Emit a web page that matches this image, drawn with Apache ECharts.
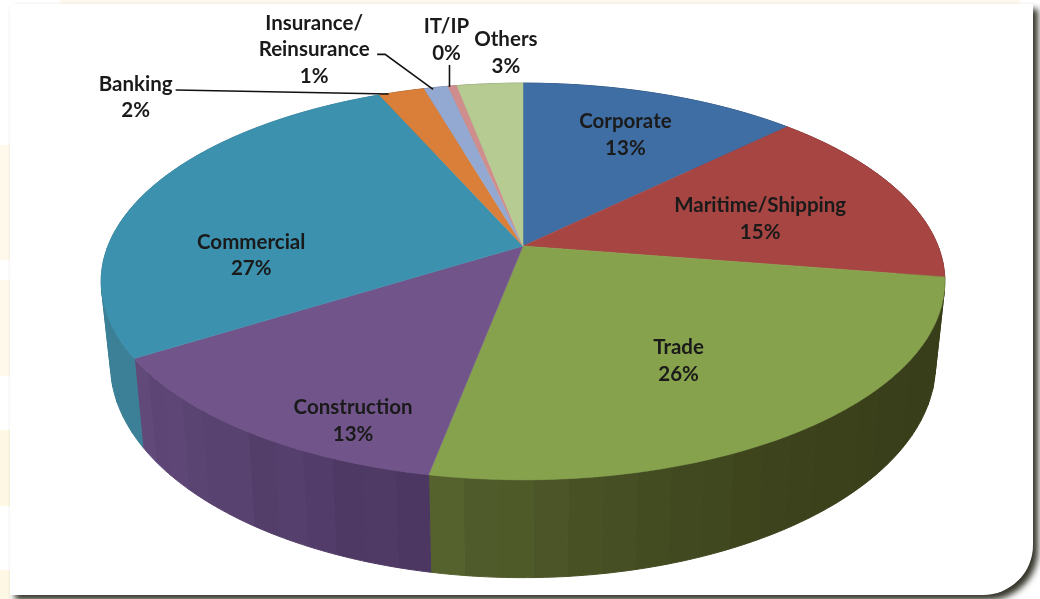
<!DOCTYPE html>
<html>
<head>
<meta charset="utf-8">
<style>
  html, body { margin: 0; padding: 0; background: #fff; }
  #main { width: 1040px; height: 599px; }
</style>
<script src="https://cdn.jsdelivr.net/npm/echarts@6/dist/echarts.min.js"></script>
</head>
<body>
<div id="main"></div>
<script>
// chart data
var categories = ['Corporate', 'Maritime/Shipping', 'Trade', 'Construction', 'Commercial', 'Banking', 'Insurance/\nReinsurance', 'IT/IP', 'Others'];
var shares = [12.7, 14.8, 25.5, 13.1, 27.3, 2.1, 1.1, 0.4, 3.0];

// colours
var topColors = ['#3f6ea4', '#a64542', '#86a24c', '#71558a', '#3c91ae', '#d97f39', '#94a9d1', '#cf8e8d', '#b6cb92'];
// wall colour at the start and end of each slice, going clockwise
var wallFrom = ['#2c4d73', '#74302e', '#383e19', '#4a3660', '#3b8096', '#985927', '#687692', '#916362', '#7f8e66'];
var wallTo = ['#2c4d73', '#74302e', '#56632f', '#614a7a', '#3b8096', '#985927', '#687692', '#916362', '#7f8e66'];
// the original wall has faint vertical banding
var banding = [0, 0.02, -0.015, 0.01, 0.025, -0.02, 0.015, -0.005];

// label placement, offset from the rim point at the middle of each slice
var labelOffsets = [[-36, 41], [-138, 28], [-124, -69], [105, -11], [105, 63], [-266, 6], [-122, -38], [-6, -46], [16, -31]];
var leaders = {
  5: [[-226, -1.5], [-13, 2.5]],
  6: [[-59, -33], [-51, -33], [-3, 2]],
  7: [[-3, -21], [-3, 1]]
};

// projection of the pie disc, fitted on the picture
var apexX = 523, apexY = 246;
var radiusX = 415, radiusY = 192, persp = 0.179;
var baseScale = 0.978, baseStretch = 1.076, baseY = 326;

var total = shares.reduce(function (a, b) { return a + b; }, 0);
var rows = [];
var running = 0;
shares.forEach(function (v, i) {
  rows.push([running / total, (running + v) / total, i]);
  running += v;
});

function topPoint(frac) {
  var a = frac * Math.PI * 2;
  var u = Math.sin(a), v = Math.cos(a);
  var d = 1 + persp * v;
  return [apexX + radiusX * u / d, apexY - radiusY * v / d];
}

function basePoint(frac) {
  var p = topPoint(frac);
  return [apexX + (p[0] - apexX) * baseScale, baseY + (p[1] - apexY) * baseStretch];
}

function mixColor(c1, c2, t, shade) {
  var out = [];
  for (var i = 0; i < 3; i++) {
    var a = parseInt(c1.substr(1 + i * 2, 2), 16);
    var b = parseInt(c2.substr(1 + i * 2, 2), 16);
    out.push(Math.max(0, Math.min(255, Math.round((a + (b - a) * t) * (1 + shade)))));
  }
  return 'rgb(' + out.join(',') + ')';
}

function renderWall(params, api) {
  var start = api.value(0), end = api.value(1), idx = api.value(2);
  var children = [];
  var steps = Math.max(1, Math.round((end - start) * 90));
  for (var s = 0; s < steps; s++) {
    var f0 = start + (end - start) * s / steps;
    var f1 = start + (end - start) * (s + 1) / steps;
    var pts = [];
    var n;
    for (n = 0; n <= 6; n++) pts.push(topPoint(f0 + (f1 - f0) * n / 6));
    for (n = 6; n >= 0; n--) pts.push(basePoint(f0 + (f1 - f0) * n / 6));
    var t = (s + 0.5) / steps;
    var ramp = Math.pow(t, idx === 2 ? 3 : 1);
    // flat walls stay flat, the trade wall only bands where it gets lighter
    var shade = wallFrom[idx] === wallTo[idx] ? 0 : banding[s % banding.length] * (idx === 2 ? ramp : 1);
    var col = mixColor(wallFrom[idx], wallTo[idx], ramp, shade);
    children.push({ type: 'polygon', shape: { points: pts }, style: { fill: col, stroke: col, lineWidth: 1 } });
  }
  return { type: 'group', children: children };
}

function renderTop(params, api) {
  var start = api.value(0), end = api.value(1), idx = api.value(2);
  var pts = [[apexX, apexY]];
  var steps = Math.max(4, Math.round((end - start) * 360));
  for (var s = 0; s <= steps; s++) pts.push(topPoint(start + (end - start) * s / steps));
  return {
    type: 'polygon',
    shape: { points: pts },
    style: { fill: topColors[idx], stroke: topColors[idx], lineWidth: 0.5 }
  };
}

function renderLabel(params, api) {
  var start = api.value(0), end = api.value(1), idx = api.value(2);
  var rim = topPoint((start + end) / 2);
  var off = labelOffsets[idx];
  var pct = Math.round((end - start) * 100);
  var children = [{
    type: 'text',
    style: {
      x: rim[0] + off[0],
      y: rim[1] + off[1],
      text: categories[idx] + '\n' + pct + '%',
      align: 'center',
      verticalAlign: 'middle',
      fill: '#1a1a1a',
      font: 'bold 20.5px Lato',
      lineHeight: 26.5
    }
  }];
  if (leaders[idx]) {
    children.push({
      type: 'polyline',
      shape: { points: leaders[idx].map(function (p) { return [rim[0] + p[0], rim[1] + p[1]]; }) },
      style: { stroke: '#111', lineWidth: 1.6, fill: null }
    });
  }
  return { type: 'group', children: children };
}

var chart = echarts.init(document.getElementById('main'), null, { renderer: 'canvas' });

chart.setOption({
  animation: false,
  backgroundColor: '#ffffff',
  graphic: [
    // cream paper showing round the panel
    { type: 'rect', z: -3, shape: { x: 60, y: 0, width: 960, height: 4 }, style: { fill: '#fdf9ef' } },
    { type: 'rect', z: -3, shape: { x: 0, y: 145, width: 10, height: 115 }, style: { fill: '#fef9ea' } },
    { type: 'rect', z: -3, shape: { x: 0, y: 280, width: 10, height: 96 }, style: { fill: '#fef9ea' } },
    { type: 'rect', z: -3, shape: { x: 0, y: 430, width: 10, height: 76 }, style: { fill: '#fef7e4' } },
    { type: 'rect', z: -3, shape: { x: 0, y: 570, width: 10, height: 29 }, style: { fill: '#fef7e4' } },
    // white panel with drop shadow
    {
      type: 'rect',
      z: -2,
      shape: { x: 10, y: 4, width: 1023, height: 591, r: [0, 0, 50, 0] },
      style: {
        fill: '#ffffff',
        shadowColor: 'rgba(40,40,30,0.95)',
        shadowBlur: 6,
        shadowOffsetX: 5,
        shadowOffsetY: 5
      }
    }
  ],
  series: [
    { type: 'custom', coordinateSystem: 'none', z: 2, silent: true, data: rows, renderItem: renderWall },
    { type: 'custom', coordinateSystem: 'none', z: 3, silent: true, data: rows, renderItem: renderTop },
    { type: 'custom', coordinateSystem: 'none', z: 4, silent: true, data: rows, renderItem: renderLabel }
  ]
});
</script>
</body>
</html>
